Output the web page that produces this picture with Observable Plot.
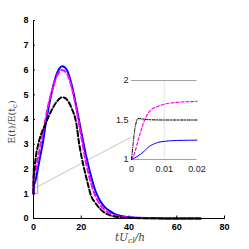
<!DOCTYPE html>
<html>
<head>
<meta charset="utf-8">
<script src="https://cdn.jsdelivr.net/npm/d3@7"></script>
<script src="https://cdn.jsdelivr.net/npm/@observablehq/plot@0.6"></script>
<style>
  html, body { margin: 0; padding: 0; background: #fff; }
  #c { position: relative; width: 249px; height: 249px; overflow: hidden; }
  #c svg { position: absolute; }
</style>
</head>
<body>
<div id="c"></div>
<script>
// ---- main panel data ----
const xTicks = [0, 20, 40, 60, 80];
const yTicks = [0, 1, 2, 3, 4, 5, 6, 7, 8];

const tBlue = [0, 0.02, 1, 2, 3, 4, 5, 6, 8, 10, 12, 14, 16, 18, 20, 22, 24, 26, 28, 30, 32, 35, 40, 45, 50, 60, 70];
const blue  = [1, 1.22, 1.6, 2.1, 2.6, 3.1, 3.75, 4.3, 5.25, 5.9, 6.15, 6.0, 5.4, 4.5, 3.5, 2.55, 1.75, 1.1, 0.7, 0.45, 0.3, 0.14, 0.05, 0.02, 0.01, 0, 0];

const tMag = [0, 0.02, 0.5, 1, 2, 3, 4, 5, 6, 8, 10, 12, 14, 16, 18, 20, 22, 24, 26, 28, 30, 32, 35, 40, 50, 60, 70];
const mag  = [1, 1.73, 1.8, 2.0, 2.5, 3.0, 3.5, 4.0, 4.5, 5.25, 5.8, 6.0, 5.85, 5.3, 4.4, 3.3, 2.25, 1.45, 0.9, 0.55, 0.33, 0.2, 0.1, 0.04, 0.02, 0.01, 0.01];

const tBlack = [0, 0.02, 0.5, 1, 2, 3, 4.5, 6, 8, 10, 12, 13, 14, 16, 18, 19, 20, 21, 22, 23, 24, 26, 28, 30, 34, 40, 50, 60, 70];
const black  = [1, 1.5, 2.1, 2.5, 3.0, 3.35, 3.7, 4.05, 4.45, 4.75, 4.9, 4.88, 4.8, 4.45, 3.8, 3.1, 2.55, 2.1, 1.7, 1.3, 0.95, 0.62, 0.38, 0.22, 0.08, 0.02, 0.01, 0, 0];

// zoom box and connector (main-panel data units)
const zoomBox = [{x1: 0, x2: 2, y1: 1, y2: 2}];
const connector = [[0, 1.2], [40.6, 3.27]];

// ---- inset data ----
const inXTicks = [0, 0.01, 0.02];
const inYTicks = [1, 1.5, 2];

const inTBlue = [0, 0.001, 0.002, 0.003, 0.004, 0.005, 0.006, 0.007, 0.008, 0.01, 0.012, 0.016, 0.02];
const inBlue  = [1, 1.02, 1.045, 1.075, 1.11, 1.15, 1.18, 1.2, 1.215, 1.23, 1.237, 1.243, 1.245];

const inTMag = [0, 0.001, 0.002, 0.003, 0.004, 0.005, 0.006, 0.008, 0.01, 0.013, 0.016, 0.02];
const inMag  = [1, 1.09, 1.24, 1.38, 1.5, 1.58, 1.63, 1.67, 1.7, 1.72, 1.73, 1.735];

const inTBlack = [0, 0.0005, 0.001, 0.0015, 0.002, 0.003, 0.005, 0.01, 0.015, 0.02];
const inBlack  = [1, 1.2, 1.38, 1.48, 1.52, 1.515, 1.505, 1.5, 1.5, 1.5];

const zip = (a, b) => a.map((v, i) => [v, b[i]]);
const tickFont = "'Liberation Sans', Arial, sans-serif";

const main = Plot.plot({
  width: 249, height: 249,
  marginLeft: 33, marginRight: 25, marginTop: 20, marginBottom: 31,
  style: {fontFamily: tickFont, fontSize: "9px", fontWeight: "bold", color: "#000", background: "transparent"},
  x: {domain: [0, 80]},
  y: {domain: [0, 8]},
  marks: [
    Plot.rect(zoomBox, {x1: "x1", x2: "x2", y1: "y1", y2: "y2", fill: "none", stroke: "#888", strokeWidth: 0.8}),
    Plot.line(connector, {stroke: "#aaa", strokeWidth: 0.7}),
    Plot.line(zip(tBlue, blue), {stroke: "#0000ff", strokeWidth: 2, curve: "monotone-x"}),
    Plot.line(zip(tMag, mag), {stroke: "#ff00ff", strokeWidth: 2, strokeDasharray: "5,3", curve: "monotone-x"}),
    Plot.line(zip(tBlack, black), {stroke: "#000", strokeWidth: 2, strokeDasharray: "5,2.5", curve: "monotone-x"}),
    Plot.frame({anchor: "left", stroke: "#000", strokeWidth: 1}),
    Plot.frame({anchor: "bottom", stroke: "#000", strokeWidth: 1}),
    Plot.ruleX(xTicks, {y1: 0, y2: 0.1, stroke: "#000"}),
    Plot.ruleY(yTicks, {x1: 0, x2: 0.8, stroke: "#000"}),
    Plot.axisX({ticks: xTicks, tickSize: 0, tickPadding: 5, label: null, tickFormat: d => String(d)}),
    Plot.axisY({ticks: yTicks, tickSize: 0, tickPadding: 5, label: null, tickFormat: d => String(d)})
  ]
});
main.style.left = "0px";
main.style.top = "0px";

// axis titles with subscripts (real text)
const svgM = d3.select(main);
const yl = svgM.append("text")
  .attr("transform", "translate(15,122) rotate(-90)")
  .attr("text-anchor", "middle")
  .attr("font-family", "'DejaVu Serif', 'Liberation Serif', serif")
  .attr("font-size", "9.5px").attr("font-weight", "normal")
  .attr("fill", "#444");
yl.append("tspan").text("E(t)/E(t");
yl.append("tspan").attr("font-size", "7px").attr("dy", "2").text("c");
yl.append("tspan").attr("dy", "-2").text(")");

const xl = svgM.append("text")
  .attr("x", 130).attr("y", 241)
  .attr("text-anchor", "middle")
  .attr("font-family", "'DejaVu Serif', 'Liberation Serif', serif")
  .attr("font-style", "italic")
  .attr("font-size", "10.5px").attr("font-weight", "normal")
  .attr("fill", "#444");
xl.append("tspan").text("tU");
xl.append("tspan").attr("font-size", "7.5px").attr("dy", "2").text("cl");
xl.append("tspan").attr("dy", "-2").text("/h");

const inset = Plot.plot({
  width: 110, height: 110,
  marginLeft: 31, marginRight: 13.5, marginTop: 10, marginBottom: 21,
  style: {fontFamily: tickFont, fontSize: "9px", color: "#222", background: "transparent", overflow: "visible"},
  x: {domain: [0, 0.02]},
  y: {domain: [1, 2]},
  marks: [
    Plot.ruleX([0.01], {stroke: "#ddd", strokeWidth: 0.8}),
    Plot.ruleY([1.5], {stroke: "#ddd", strokeWidth: 0.8}),
    Plot.ruleY([2], {stroke: "#999", strokeWidth: 0.9}),
    Plot.ruleY([1], {stroke: "#999", strokeWidth: 0.9}),
    Plot.line(zip(inTBlue, inBlue), {stroke: "#0000ff", strokeWidth: 1, curve: "monotone-x"}),
    Plot.line(zip(inTMag, inMag), {stroke: "#ff00ff", strokeWidth: 1.2, strokeDasharray: "3,2", curve: "monotone-x"}),
    Plot.line(zip(inTBlack, inBlack), {stroke: "#000", strokeWidth: 1, strokeDasharray: "3,1.5,1,1.5", curve: "monotone-x"}),
    Plot.axisX({ticks: inXTicks, tickSize: 0, tickPadding: 6, label: null, tickFormat: d => d === 0 ? "0" : String(d)}),
    Plot.axisY({ticks: inYTicks, tickSize: 0, tickPadding: 3, label: null, tickFormat: d => String(d)})
  ]
});
inset.style.left = "100px";
inset.style.top = "70px";

const c = document.getElementById("c");
c.appendChild(main);
c.appendChild(inset);
</script>
</body>
</html>
